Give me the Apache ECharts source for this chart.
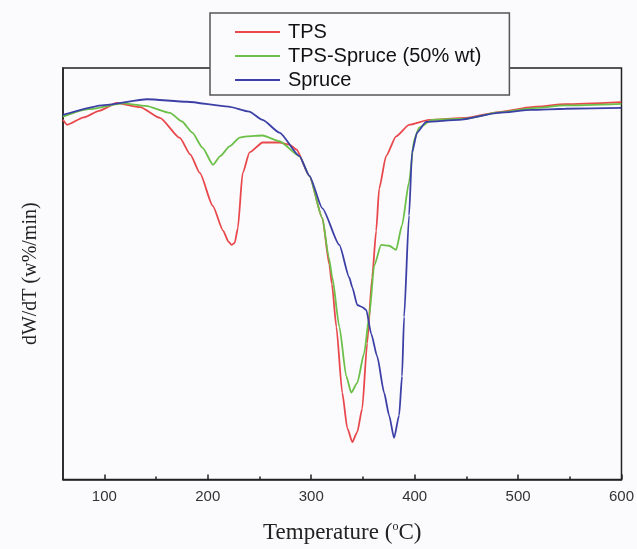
<!DOCTYPE html>
<html>
<head>
<meta charset="utf-8">
<script src="https://cdn.jsdelivr.net/npm/echarts@6/dist/echarts.min.js"></script>
<style>
html,body{margin:0;padding:0;background:#fbfbfd;}
#chart{width:637px;height:549px;}
</style>
</head>
<body>
<div id="chart"></div>
<script>
// Temperature (°C) and relative dW/dT signal (arbitrary units, higher = top of plot)
const seriesNames = ['TPS', 'TPS-Spruce (50% wt)', 'Spruce'];
const xTickLabels = [100, 200, 300, 400, 500, 600];
const xMinorTicks = [150, 250, 350, 450, 550];

const tpsT = [60, 64, 80, 95, 112, 134.5, 153.7, 173, 183, 192.3, 204.8, 214.8, 220, 223, 226, 229, 233.7, 240.4, 253, 269.3, 279, 285.7, 298.2, 310.8, 317.5, 320, 324.3, 330, 334.9, 339.7, 344.5, 349.3, 354.1, 358.9, 362.8, 365.7, 372.4, 382.1, 394.6, 413.9, 449.6, 481.3, 513.1, 545.9, 599.8];
const tpsV = [87.4, 86.2, 88.0, 89.6, 91.5, 90.5, 87.9, 83.0, 79.0, 74.5, 66.5, 60.5, 57.8, 57.0, 57.5, 61.0, 74.5, 79.5, 81.9, 81.9, 81.4, 80.2, 73.8, 63.5, 52.2, 47.5, 37.1, 21.1, 12.5, 9.1, 11.5, 17.2, 33.1, 49.1, 60.4, 70.7, 78.6, 83.4, 86.2, 87.4, 87.9, 89.3, 90.5, 91.2, 91.7];

const mixT = [60, 85, 118, 140, 163.4, 175, 185, 195, 205, 212, 221.3, 230.8, 237.6, 253, 269.3, 288.6, 298.2, 310.8, 317, 320.4, 327.2, 333.9, 338.7, 344.5, 351.2, 356, 360.9, 367.6, 375.3, 382.1, 387.8, 394.6, 399.5, 404.3, 416.8, 449.6, 481.3, 513.1, 545.9, 599.8];
const mixV = [88.2, 90.0, 91.4, 90.8, 89.1, 87.0, 84.3, 80.6, 76.5, 78.6, 81.0, 83.1, 83.4, 83.6, 82.2, 78.6, 73.8, 63.5, 54.0, 49.1, 37.1, 25.1, 21.1, 23.5, 30.7, 39.5, 52.0, 57.0, 56.8, 55.8, 61.8, 72.3, 82.6, 85.5, 87.4, 87.7, 89.2, 90.2, 90.9, 91.3];

const spruceT = [60, 100, 141.2, 180, 220, 240, 253, 269.3, 288.6, 298.2, 310.8, 327.2, 336.8, 339.7, 344.5, 349.3, 353.2, 358, 363.8, 370.5, 375.3, 380.1, 385, 387.8, 389.8, 394.6, 397.5, 402.3, 411, 442.8, 481.3, 513.1, 545.9, 599.8];
const spruceV = [88.6, 91.0, 92.4, 91.8, 90.6, 89.4, 87.4, 84.3, 78.6, 73.8, 65.9, 57.0, 49.1, 46.7, 42.4, 41.9, 41.2, 35.4, 29.9, 21.1, 15.6, 10.1, 15.6, 25.1, 39.5, 64.2, 79.5, 84.3, 86.9, 87.4, 89.1, 89.8, 90.1, 90.3];

function pairs(t, v) { return t.map((x, i) => [x, v[i]]); }

const colors = ['#e8484c', '#6cbf48', '#3c40a6'];
const chart = echarts.init(document.getElementById('chart'), null, {renderer: 'canvas'});

function line(name, data, color) {
  return {
    name: name, type: 'line', data: data, showSymbol: false, symbol: 'none',
    smooth: 0.2, smoothMonotone: 'x',
    lineStyle: {color: color, width: 1.8},
    itemStyle: {color: color},
    xAxisIndex: 0, yAxisIndex: 0
  };
}

chart.setOption({
  backgroundColor: '#fbfbfd',
  animation: false,
  grid: {left: 63, right: 14, top: 68, bottom: 64, show: true, borderColor: '#222', borderWidth: 1.5, backgroundColor: 'transparent'},
  legend: {
    orient: 'vertical', left: 210, top: 13,
    padding: [9, 28, 5, 25], itemGap: 4,
    itemWidth: 45, itemHeight: 2,
    backgroundColor: '#fbfbfd', borderColor: '#555', borderWidth: 1.5,
    icon: 'rect',
    textStyle: {fontFamily: 'Liberation Sans', fontSize: 20, color: '#111', lineHeight: 20, padding: [0, 0, 0, 3]},
    data: seriesNames
  },
  xAxis: [{
    type: 'value', min: 60, max: 600,
    axisLine: {show: true, lineStyle: {color: '#222', width: 1.5}},
    axisTick: {show: true, inside: true, length: 5, customValues: xTickLabels, lineStyle: {color: '#222', width: 1.5}},
    axisLabel: {show: true, customValues: xTickLabels, margin: 10, fontFamily: 'Liberation Sans', fontSize: 15, color: '#333'},
    splitLine: {show: false},
    name: '{a|Temperature (}{s|o}{a|C)}',
    nameLocation: 'middle', nameGap: 41,
    nameTextStyle: {
      rich: {
        a: {fontFamily: 'Liberation Serif', fontSize: 23, color: '#222', lineHeight: 24},
        s: {fontFamily: 'Liberation Serif', fontSize: 12, color: '#222', verticalAlign: 'top', lineHeight: 12}
      }
    }
  }, {
    type: 'value', min: 60, max: 600, position: 'bottom',
    axisLine: {show: false},
    axisTick: {show: true, inside: true, length: 3, customValues: xMinorTicks, lineStyle: {color: '#222', width: 1.5}},
    axisLabel: {show: false},
    splitLine: {show: false}
  }],
  yAxis: {
    type: 'value', min: 0, max: 100,
    axisLine: {show: true, lineStyle: {color: '#222', width: 1.5}},
    axisTick: {show: false}, axisLabel: {show: false}, splitLine: {show: false},
    name: 'dW/dT (w%/min)', nameLocation: 'middle', nameGap: 22,
    nameTextStyle: {fontFamily: 'Liberation Serif', fontSize: 20, color: '#222'}
  },
  series: [
    line(seriesNames[0], pairs(tpsT, tpsV), colors[0]),
    line(seriesNames[1], pairs(mixT, mixV), colors[1]),
    line(seriesNames[2], pairs(spruceT, spruceV), colors[2])
  ]
});
</script>
</body>
</html>
